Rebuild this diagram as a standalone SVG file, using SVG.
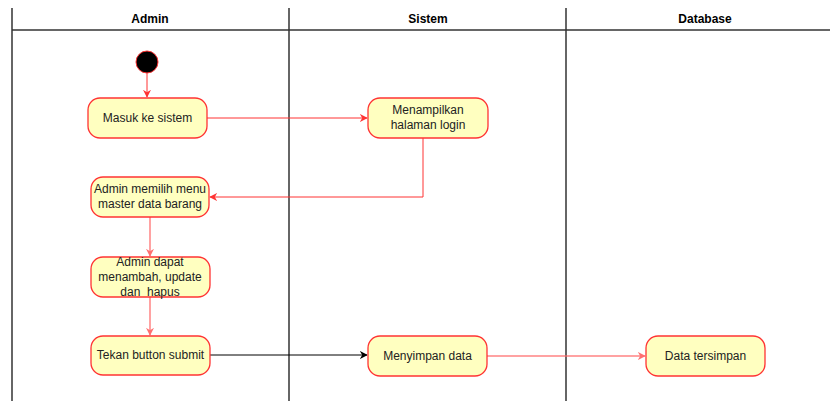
<svg xmlns="http://www.w3.org/2000/svg" width="830" height="401" viewBox="0 0 830 401">
<defs>
<style>
.lane{stroke:#333;stroke-width:1.5;fill:none}
.hd{font-family:"Liberation Sans",Arial,sans-serif;font-size:12px;font-weight:bold;fill:#000;text-anchor:middle}
.nd rect{fill:#ffffc0;stroke:#ff3333;stroke-width:1.3}
.nd text{font-family:"Liberation Sans",Arial,sans-serif;font-size:12px;fill:#222;text-anchor:middle}
.e{fill:none;stroke:#ff3333;stroke-width:1}
.el{fill:none;stroke:#ff6666;stroke-width:1.5;opacity:0.8}
.ek{fill:none;stroke:#000;stroke-width:1}
</style>
<marker id="ar" viewBox="0 0 10 10" refX="9" refY="5" markerWidth="8" markerHeight="8" markerUnits="userSpaceOnUse" orient="auto"><path d="M0,0 L10,5 L0,10 L3,5 Z" fill="#ff3333"/></marker>
<marker id="arl" viewBox="0 0 10 10" refX="9" refY="5" markerWidth="8" markerHeight="8" markerUnits="userSpaceOnUse" orient="auto"><path d="M0,0 L10,5 L0,10 L3,5 Z" fill="#ff4d4d"/></marker>
<marker id="ak" viewBox="0 0 10 10" refX="9" refY="5" markerWidth="8" markerHeight="8" markerUnits="userSpaceOnUse" orient="auto"><path d="M0,0 L10,5 L0,10 L3,5 Z" fill="#000"/></marker>
</defs>
<g id="lanes">
<line class="lane" x1="12" y1="8" x2="12" y2="401"/>
<line class="lane" x1="289" y1="8" x2="289" y2="401"/>
<line class="lane" x1="566" y1="8" x2="566" y2="401"/>
<line class="lane" x1="12" y1="30" x2="830" y2="30"/>
<text class="hd" x="150" y="23">Admin</text>
<text class="hd" x="428" y="23">Sistem</text>
<text class="hd" x="705" y="23">Database</text>
</g>
<g id="connectors">
<line class="e" x1="147" y1="73" x2="147" y2="97" marker-end="url(#ar)"/>
<line class="e" x1="207" y1="118" x2="367" y2="118" marker-end="url(#ar)"/>
<polyline class="e" points="423,138 423,197 210,197" marker-end="url(#ar)"/>
<line class="el" x1="150" y1="217" x2="150" y2="256" marker-end="url(#arl)"/>
<line class="el" x1="150" y1="297" x2="150" y2="335" marker-end="url(#arl)"/>
<line class="ek" x1="210" y1="355" x2="367" y2="355" marker-end="url(#ak)"/>
<line class="el" x1="487" y1="356" x2="645" y2="356" marker-end="url(#arl)"/>
</g>
<g id="start"><circle cx="147" cy="62" r="11" fill="#000" stroke="#ff3333" stroke-width="1"/></g>
<g id="masuk" class="nd"><rect x="88" y="98" width="119" height="40" rx="12"/><text x="147.5" y="122">Masuk ke sistem</text></g>
<g id="menampilkan" class="nd"><rect x="368" y="98" width="120" height="40" rx="12"/><text x="428" y="114">Menampilkan</text><text x="428" y="129">halaman login</text></g>
<g id="memilih" class="nd"><rect x="91" y="177" width="118" height="40" rx="12"/><text x="150" y="193">Admin memilih menu</text><text x="150" y="208">master data barang</text></g>
<g id="dapat" class="nd"><rect x="91" y="257" width="119" height="40" rx="12"/><text x="150" y="266">Admin dapat</text><text x="150" y="281">menambah, update</text><text x="150" y="296" xml:space="preserve">dan  hapus</text></g>
<g id="tekan" class="nd"><rect x="91" y="336" width="119" height="39" rx="12"/><text x="150.5" y="359">Tekan button submit</text></g>
<g id="menyimpan" class="nd"><rect x="368" y="336" width="119" height="40" rx="12"/><text x="427.5" y="360">Menyimpan data</text></g>
<g id="tersimpan" class="nd"><rect x="646" y="336" width="119" height="40" rx="12"/><text x="705.5" y="360">Data tersimpan</text></g>
</svg>
